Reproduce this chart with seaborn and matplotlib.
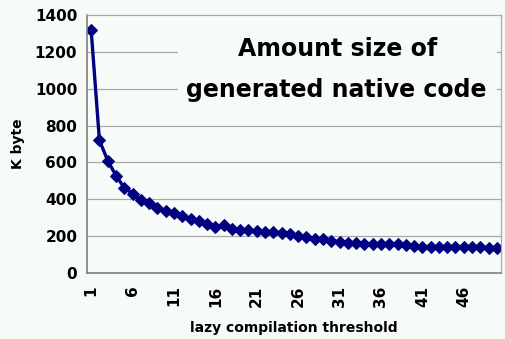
import matplotlib
matplotlib.use("Agg")
import matplotlib.pyplot as plt
import seaborn as sns
import pandas as pd
import numpy as np

thresholds = list(range(1, 51))
kbytes = [1320, 720, 610, 528, 463, 431, 395, 380, 355, 337,
          326, 308, 294, 281, 268, 247, 258, 240, 232, 232,
          227, 224, 222, 218, 212, 202, 193, 184, 182, 175,
          169, 164, 164, 160, 160, 157, 160, 157, 150, 148,
          143, 143, 143, 143, 143, 143, 141, 140, 138, 138]
xtick_labels = [1, 6, 11, 16, 21, 26, 31, 36, 41, 46]
yticks = [0, 200, 400, 600, 800, 1000, 1200, 1400]

df = pd.DataFrame({"threshold": thresholds, "kbyte": kbytes})

sns.set_theme(style="white")
plt.rcParams['font.family'] = ['DejaVu Sans']
bg = "#F7FBF7"

fig = plt.figure(figsize=(5.06, 3.39), dpi=100, facecolor=bg)
ax = fig.add_axes([87/506, 1-273/339, (501-87)/506, (273-15)/339])
ax.set_facecolor(bg)

sns.lineplot(data=df, x="threshold", y="kbyte", ax=ax, color="#000080",
             linewidth=2.4, marker="D", markersize=5.8,
             markeredgecolor="#000080", markerfacecolor="#000080")

ax.set_xlim(0.5, 50.5)
ax.set_ylim(0, 1400)
ax.set_yticks(yticks)
ax.set_yticklabels([str(v) for v in yticks], fontsize=11, fontweight="bold")
ax.set_xticks(xtick_labels)
ax.set_xticklabels([str(v) for v in xtick_labels], rotation=90,
                   fontsize=11, fontweight="bold")
ax.set_xticks(np.arange(0.5, 51, 1), minor=True)
ax.tick_params(axis="x", which="major", length=0, pad=9)
ax.tick_params(axis="x", which="minor", direction="in", length=4,
               color="#808080", width=0.8)
ax.tick_params(axis="y", which="major", length=0, pad=7)
for lab in ax.get_yticklabels() + ax.get_xticklabels():
    lab.set_color("black")

for v in yticks[1:-1]:
    ax.axhline(v, color="#A8A8A8", linewidth=0.9, zorder=0)

for side in ["left", "bottom"]:
    ax.spines[side].set_color("#808080")
    ax.spines[side].set_linewidth(1.2)
for side in ["top", "right"]:
    ax.spines[side].set_visible(True)
    ax.spines[side].set_color("#A8A8A8")
    ax.spines[side].set_linewidth(0.9)

ax.set_xlabel("lazy compilation threshold", fontsize=10, fontweight="bold",
              color="black", labelpad=10)
ax.set_ylabel("K byte", fontsize=10, fontweight="bold", color="black",
              labelpad=7)

# title box covering gridlines
fig.patches.append(matplotlib.patches.Rectangle(
    (178/506, 1-110/339), (497-178)/506, (110-40)/339,
    transform=fig.transFigure, facecolor=bg, edgecolor="none", zorder=1))
fig.text(338/506, 1-49/339, "Amount size of", ha="center", va="center",
         fontsize=17, fontweight="bold", color="black", zorder=2)
fig.text(336/506, 1-90/339, "generated native code", ha="center", va="center",
         fontsize=17, fontweight="bold", color="black", zorder=2)

fig.savefig("out.png", dpi=100, facecolor=bg)
